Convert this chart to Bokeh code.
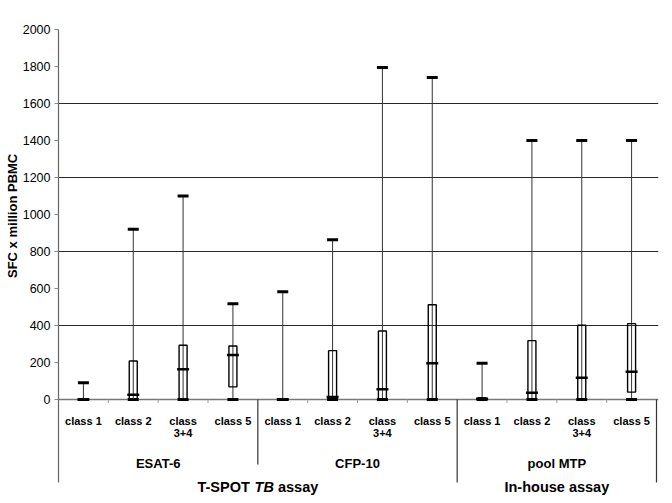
import math
from bokeh.plotting import figure
from bokeh.models import Range1d, FixedTicker, ColumnDataSource, Title
from bokeh.core.properties import value
from bokeh.embed import file_html
from bokeh.resources import INLINE

# ---------------- data ----------------
classes = ["class 1", "class 2", "class\n3+4", "class 5"]
antigens = ["ESAT-6", "CFP-10", "pool MTP"]
assays = ["T-SPOT TB assay", "In-house assay"]
antigens_per_assay = [2, 1]

mins    = [0, 0, 0, 0,    0, 0, 0, 0,      0, 0, 0, 0]
q1      = [0, 0, 0, 68,   0, 0, 0, 0,      0, 0, 0, 40]
medians = [0, 25, 163, 240, 0, 13, 55, 196, 4, 37, 118, 150]
q3      = [0, 208, 293, 289, 0, 264, 370, 512, 10, 318, 401, 410]
maxs    = [90, 920, 1100, 518, 583, 864, 1795, 1741, 196, 1400, 1400, 1400]

y_ticks = list(range(0, 2001, 200))
grid_values = [400, 800, 1200, 1600]
y_title = "SFC x million PBMC"

# ---------------- layout helpers ----------------
n_cls = len(classes)
n = n_cls * len(antigens)
xs = [i + 0.5 for i in range(n)]
labels = classes * len(antigens)

FONT = value("Liberation Sans")
Y_BOTTOM = -546
Y_TOP = 2000
px = (Y_TOP - Y_BOTTOM) / 471.0  # data units per pixel

p = figure(width=672, height=503, output_backend="svg", toolbar_location=None,
           x_range=Range1d(0, n + 0.04), y_range=Range1d(Y_BOTTOM, Y_TOP),
           x_axis_location=None, min_border_left=58, min_border_right=14,
           min_border_top=29, min_border_bottom=3)
p.outline_line_color = None
p.background_fill_color = "white"
p.border_fill_color = "white"

p.xgrid.visible = False
p.ygrid.ticker = FixedTicker(ticks=grid_values)
p.ygrid.grid_line_color = "#2a2a2a"
p.ygrid.grid_line_width = 1

ax = p.yaxis[0]
ax.ticker = FixedTicker(ticks=y_ticks)
ax.bounds = (-83 * px, Y_TOP)
ax.axis_line_color = "#666666"
ax.axis_line_width = 1.2
ax.major_tick_line_color = "#888888"
ax.major_tick_out = 4
ax.major_tick_in = 0
ax.minor_tick_line_color = None
ax.major_label_text_font = "Liberation Sans"
ax.major_label_text_font_size = "12.5px"
ax.major_label_text_color = "black"
ax.major_label_standoff = 4

# y-axis title: its start placed so that it is centred on the 0..2000 span
title_len_px = 117
start_px = ((Y_TOP / 2) - Y_BOTTOM) / px - title_len_px / 2  # from frame bottom
p.add_layout(Title(text=y_title, align="left", offset=start_px - 5,
                   text_font="Liberation Sans", text_font_style="bold",
                   text_font_size="13px", text_color="black", standoff=0), "left")

# baseline at zero
p.segment(x0=[0], y0=[0], x1=[n + 0.04], y1=[0], line_color="#777777", line_width=1.5)

# category tick marks & separators
tick_x = [i for i in range(1, n) if i % n_cls != 0]
p.segment(x0=tick_x, y0=[0] * len(tick_x), x1=tick_x, y1=[-3.5 * px] * len(tick_x),
          line_color="#999999", line_width=1)
sep_x, sep_y = [], []
bounds_assay = []
acc = 0
for k in antigens_per_assay:
    acc += k
    bounds_assay.append(acc * n_cls)
for g in range(1, len(antigens) + 1):
    bx = g * n_cls
    sep_x.append(bx)
    sep_y.append(-83 * px if bx in bounds_assay else -65 * px)
p.segment(x0=sep_x, y0=[0] * len(sep_x), x1=sep_x, y1=sep_y,
          line_color="#333333", line_width=1.2)

# ---------------- box plot ----------------
src = ColumnDataSource(dict(x=xs, lo=mins, hi=maxs, med=medians))
p.segment(x0="x", y0="lo", x1="x", y1="hi", source=src, line_color="#333333", line_width=1)
box_idx = [i for i in range(n) if q3[i] > q1[i]]
bsrc = ColumnDataSource(dict(x=[xs[i] for i in box_idx],
                             mid=[(q1[i] + q3[i]) / 2 for i in box_idx],
                             h=[q3[i] - q1[i] for i in box_idx]))
p.rect(x="x", y="mid", width=8, height="h", width_units="screen", source=bsrc,
       fill_color=None, line_color="black", line_width=1.4)
p.rect(x="x", y="med", width=12, height=2.5, width_units="screen", height_units="screen",
       source=src, fill_color="black", line_color=None)
p.rect(x="x", y="hi", width=11, height=3, width_units="screen", height_units="screen",
       source=src, fill_color="black", line_color=None)
p.rect(x="x", y="lo", width=11, height=3, width_units="screen", height_units="screen",
       source=src, fill_color="black", line_color=None)

# ---------------- category labels ----------------
p.text(x=xs, y=[-16 * px] * n, text=labels, text_font=FONT, text_font_style="bold",
       text_font_size="11px", text_align="center", text_baseline="top",
       text_line_height=1.0, text_color="black")

ant_x = [g * n_cls + n_cls / 2 for g in range(len(antigens))]
p.text(x=ant_x, y=[-64 * px] * len(antigens), text=antigens, text_font=FONT,
       text_font_style="bold", text_font_size="13px", text_align="center",
       text_baseline="middle", text_color="black")

# assay labels
assay_x = []
start = 0
for k in antigens_per_assay:
    assay_x.append((start + k / 2) * n_cls)
    start += k
ya = -88 * px
parts = assays[0].split(" ")  # ["T-SPOT", "TB", "assay"]
fs = 14.5
w = [3.667 * fs, 1.333 * fs, 2.78 * fs]
sp = 0.278 * fs
total = sum(w) + 2 * sp
offs = [-total / 2, -total / 2 + w[0] + sp, -total / 2 + w[0] + w[1] + 2 * sp]
styles = ["bold", "bold italic", "bold"]
for t, o, s in zip(parts, offs, styles):
    p.text(x=[assay_x[0]], y=[ya], text=[t], x_offset=o, text_font=FONT,
           text_font_style=s, text_font_size=f"{fs}px", text_align="left",
           text_baseline="middle", text_color="black")
p.text(x=[assay_x[1]], y=[ya], text=[assays[1]], text_font=FONT, text_font_style="bold",
       text_font_size=f"{fs}px", text_align="center", text_baseline="middle",
       text_color="black")

open("out.html", "w").write(file_html(p, INLINE))
